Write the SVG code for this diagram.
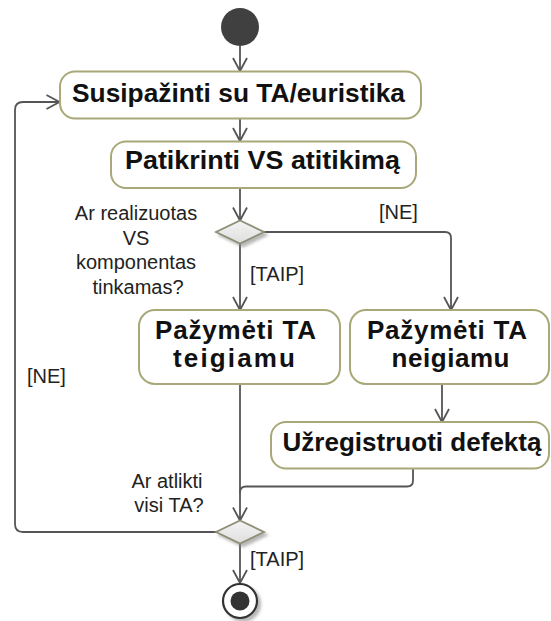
<svg xmlns="http://www.w3.org/2000/svg" width="551" height="621" viewBox="0 0 551 621">
  <style>
    .action rect { fill: #ffffff; stroke: #a8a878; stroke-width: 2; }
    .action text { font-family: "Liberation Sans", Arial, sans-serif; font-size: 26px; font-weight: bold; fill: #111111; text-anchor: middle; }
    .decision polygon { fill: url(#decisionFill); stroke: #8e8e74; stroke-width: 1.8; filter: url(#shadow); }
    .flow { fill: none; stroke: #555555; stroke-width: 1.8; }
    .arrow { marker-end: url(#openArrow); }
    .label { font-family: "Liberation Sans", Arial, sans-serif; font-size: 20px; fill: #222222; }
    .mid { text-anchor: middle; }
  </style>
  <defs>
    <marker id="openArrow" viewBox="0 0 16 16" refX="14" refY="8" markerWidth="16" markerHeight="16" markerUnits="userSpaceOnUse" orient="auto">
      <path d="M1,1 L14,8 L1,15" fill="none" stroke="#555555" stroke-width="1.8"/>
    </marker>
    <linearGradient id="decisionFill" x1="0" y1="0" x2="0" y2="1">
      <stop offset="0" stop-color="#f4f4f4"/>
      <stop offset="1" stop-color="#dedede"/>
    </linearGradient>
    <filter id="shadow" x="-30%" y="-30%" width="170%" height="170%">
      <feDropShadow dx="3" dy="3" stdDeviation="1.5" flood-color="#888888" flood-opacity="0.6"/>
    </filter>
  </defs>

  <!-- control flows -->
  <g id="connectors">
    <path class="flow arrow" d="M240,46 V71"/>
    <path class="flow arrow" d="M240,118.5 V141"/>
    <path class="flow arrow" d="M240,188 V220.5"/>
    <path class="flow arrow" d="M240,243.5 V310"/>
    <path class="flow arrow" d="M264,232 H445 Q451,232 451,238 V310"/>
    <path class="flow arrow" d="M442,384 V422"/>
    <path class="flow arrow" d="M240,384 V520.5"/>
    <path class="flow" d="M413,468.5 V480.5 Q413,486.5 407,486.5 H246 Q240,486.5 240,492.5"/>
    <path class="flow arrow" d="M216,532 H23 Q15,532 15,524 V110 Q15,102 23,102 H59.5"/>
    <path class="flow arrow" d="M240,543.5 V583"/>
  </g>

  <!-- guard and question labels -->
  <g id="labels">
    <text class="label" x="379" y="219">[NE]</text>
    <text class="label" x="250" y="281">[TAIP]</text>
    <text class="label mid" x="136" y="220">Ar realizuotas</text>
    <text class="label mid" x="136" y="244.7">VS</text>
    <text class="label mid" x="136" y="269.4">komponentas</text>
    <text class="label mid" x="138" y="294">tinkamas?</text>
    <text class="label" x="27" y="383">[NE]</text>
    <text class="label mid" x="167" y="488">Ar atlikti</text>
    <text class="label mid" x="169" y="512">visi TA?</text>
    <text class="label" x="250" y="566">[TAIP]</text>
  </g>

  <g id="start">
    <circle cx="240" cy="27" r="19" fill="#404040"/>
  </g>

  <g id="susipazinti" class="action">
    <rect x="60" y="71.5" width="361" height="47" rx="15"/>
    <text x="238.5" y="101.5" textLength="333" lengthAdjust="spacingAndGlyphs">Susipažinti su TA/euristika</text>
  </g>

  <g id="patikrinti" class="action">
    <rect x="111" y="141.5" width="305" height="46.5" rx="15"/>
    <text x="262.5" y="169" textLength="275" lengthAdjust="spacingAndGlyphs">Patikrinti VS atitikimą</text>
  </g>

  <g id="decision-komponentas" class="decision">
    <polygon points="240,220.5 264,232 240,243.5 216,232"/>
  </g>

  <g id="teigiamu" class="action">
    <rect x="139" y="310" width="201" height="74" rx="16"/>
    <text x="235.5" y="339" textLength="161">Pažymėti TA</text>
    <text x="234" y="366.5" textLength="122">teigiamu</text>
  </g>

  <g id="neigiamu" class="action">
    <rect x="350" y="310" width="199" height="74" rx="16"/>
    <text x="447" y="339" textLength="160">Pažymėti TA</text>
    <text x="450.5" y="366.5" textLength="118">neigiamu</text>
  </g>

  <g id="defektas" class="action">
    <rect x="271" y="422" width="278" height="46.5" rx="15"/>
    <text x="412" y="451" textLength="259">Užregistruoti defektą</text>
  </g>

  <g id="decision-visi" class="decision">
    <polygon points="240,520.5 264,532 240,543.5 216,532"/>
  </g>

  <g id="end">
    <circle cx="240" cy="601" r="17" fill="#ffffff" stroke="#333333" stroke-width="2.2" filter="url(#shadow)"/>
    <circle cx="240" cy="601" r="9.5" fill="#333333"/>
  </g>
</svg>
